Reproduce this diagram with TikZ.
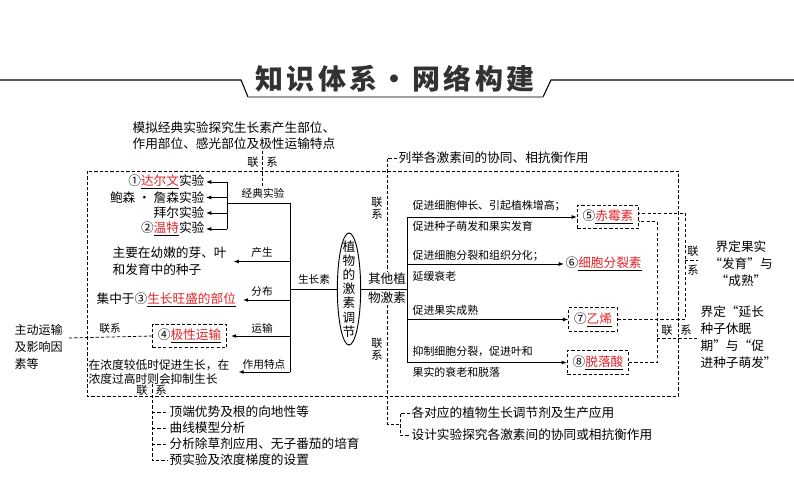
\documentclass[tikz,border=0pt]{standalone}
\usepackage{fontspec}
\setmainfont{Noto Sans CJK SC}
\newfontfamily\titlefont{Noto Sans CJK SC}[LetterSpace=12]
\usepackage{xcolor}
\usepackage{tikz}
\usetikzlibrary{arrows.meta, shapes.geometric, calc}
\definecolor{keyred}{RGB}{225, 35, 40}
\definecolor{titlegray}{RGB}{50, 50, 50}
\definecolor{bargray}{RGB}{160, 160, 160}
\tikzset{
    txt/.style ={font=\fontsize{9.5}{12.75}\selectfont, inner sep=1pt, align=left},
    note/.style={font=\fontsize{8}{10}\selectfont, inner sep=1pt},
    desc/.style={font=\fontsize{8.2}{10}\selectfont, inner sep=1pt, anchor=west},
    lk/.style  ={font=\fontsize{8.5}{10}\selectfont, inner sep=0.5pt},
    dbox/.style={draw, dashed, dash pattern=on 2.4pt off 1.6pt, line width=0.6pt,
                 inner xsep=4pt, minimum height=17pt, font=\fontsize{9.5}{12}\selectfont},
    ln/.style  ={line width=0.7pt},
    ar/.style  ={-{Latex[length=4pt, width=3pt]}, line width=0.7pt},
    dsh/.style ={dashed, dash pattern=on 2.4pt off 1.6pt, line width=0.6pt}
}
\newcommand{\redkey}[1]{\underline{\textcolor{keyred}{#1}}}

\begin{document}
\begin{tikzpicture}[x=0.75pt, y=-0.75pt]
  \useasboundingbox (0,0) rectangle (794,504);

  % title bar
  \node[font=\titlefont\fontsize{21}{24}\selectfont\bfseries, text=titlegray] (title) at (395,79) {知识体系·网络构建};
  \coordinate (hbL) at (0,80);
  \coordinate (hbR) at (794,80);
  \draw[line width=0.8pt] (hbL) -- (241,80) -- (248,97);
  \draw[line width=0.8pt] (543,97) -- (551,80) -- (hbR);
  \draw[bargray, line width=1.8pt] (248,97) -- (543,97);

  % outer frame
  \coordinate (frNW) at (87,171);
  \coordinate (frSE) at (678,396);
  \draw[dsh] (frNW) rectangle (frSE);

  \node[txt, anchor=west, font=\fontsize{9.5}{12}\selectfont] (topnote) at (131,136)
        {模拟经典实验探究生长素产生部位、\\作用部位、感光部位及极性运输特点};
  \coordinate (lkTop) at (262,151);
  \node[lk] (lkA) at (253,162) {联};
  \node[lk] (lkB) at (272,162) {系};

  % classic experiments
  \node[note] (jd) at (263,193) {经典实验};
  \draw[dsh] (lkTop) -- (jd.north -| lkTop);
  \node[txt, anchor=east] (ex1) at (206,182)   {①\redkey{达尔文}实验};
  \node[txt, anchor=east] (ex2) at (206,197.5) {鲍森 · 詹森实验};
  \node[txt, anchor=east] (ex3) at (206,213)   {拜尔实验};
  \node[txt, anchor=east] (ex4) at (206,229)   {②\redkey{温特}实验};
  \coordinate (brA) at (227,182);
  \coordinate (brB) at (227,229);
  \coordinate (brM) at (227,203);
  \coordinate (trTop) at (290,203);
  \coordinate (trBot) at (290,372);
  \draw[ln] (brA) -- (brB);
  \draw[ln] (brM) -- (trTop) -- (trBot);
  \foreach \e in {ex1,ex2,ex3,ex4}
    \draw[ar] (brA |- \e.east) -- (\e.east);

  % auxin branches
  \node[note] (lbA) at (262,252) {产生};
  \node[txt, anchor=west] (prod) at (111,261.5) {主要在幼嫩的芽、叶\\和发育中的种子};
  \draw[ar] (trTop |- prod.east) -- ([xshift=4pt]prod.east);
  \node[note] (lbB) at (262,291) {分布};
  \node[txt, anchor=west] (dist) at (95,300) {集中于③\redkey{生长旺盛的部位}};
  \draw[ar] (trTop |- dist.east) -- ([xshift=4pt]dist.east);
  \node[note] (lbC) at (262,328) {运输};
  \node[dbox] (polar) at (189.5,336) {④\redkey{极性运输}};
  \draw[ar] (trTop |- polar.east) -- ([xshift=3pt]polar.east);
  \node[note] (lbD) at (264,364) {作用特点};
  \node[txt, anchor=west, font=\fontsize{8.8}{10.5}\selectfont] (effect) at (87,372)
        {在浓度较低时促进生长，在\\浓度过高时则会抑制生长};
  \draw[ar] (trBot) -- ([xshift=5.5pt]effect.east);

  % active transport link
  \node[txt, anchor=west, font=\fontsize{9}{12.75}\selectfont] (active) at (13,347) {主动运输\\及影响因\\素等};
  \node[note] (lkC) at (110,329) {联系};
  \coordinate (actR) at (69,338);
  \draw[dsh] (actR) -- (polar.west);

  % centre
  \node[ellipse, draw, line width=0.7pt, minimum width=17.5pt, minimum height=84pt, inner sep=0pt] (horm) at (349,289) {};
  \node[font=\fontsize{9.5}{10.6}\selectfont, align=center, inner sep=0pt] (hormtxt) at (horm.center)
        {植\\物\\的\\激\\素\\调\\节};
  \node[note] (auxlbl) at (314,279) {生长素};
  \draw[ln] (trTop |- horm.west) -- (horm.west);

  % other hormones
  \node[txt, align=center, font=\fontsize{9.5}{14.5}\selectfont] (other) at (387,288) {其他植\\物激素};
  \coordinate (rtA) at (407,217);
  \coordinate (rtB) at (407,362.5);
  \draw[ln] (horm.east) -- (rtA |- horm.east);
  \draw[ln] (rtA) -- (rtB);

  \node[dbox] (ga) at (608,217) {⑤\redkey{赤霉素}};
  \node[txt, anchor=west] (ck) at (564,264) {⑥\redkey{细胞分裂素}};
  \node[dbox] (eth) at (593,319.5) {⑦\redkey{乙烯}};
  \node[dbox] (aba) at (598,362.5) {⑧\redkey{脱落酸}};
  \draw[ar] (rtA) -- (ga.west);
  \draw[ar] (rtA |- ck.west) -- (ck.west);
  \draw[ar] (rtA |- eth.west) -- (eth.west);
  \draw[ar] (rtB) -- (aba.west);

  \node[desc] (gaA)  at (411,206) {促进细胞伸长、引起植株增高；};
  \node[desc] (gaB)  at (411,226) {促进种子萌发和果实发育};
  \node[desc] (ckA)  at (411,256) {促进细胞分裂和组织分化；};
  \node[desc] (ckB)  at (411,276) {延缓衰老};
  \node[desc] (ethA) at (411,310) {促进果实成熟};
  \node[desc] (abaA) at (411,351) {抑制细胞分裂，促进叶和};
  \node[desc] (abaB) at (411,372) {果实的衰老和脱落};

  % links of the other hormones
  \node[txt, anchor=west] (coop) at (397,158) {列举各激素间的协同、相抗衡作用};
  \draw[dsh] (coop.west) -| (other.north);
  \node[lk] (lkD) at (377,202) {联};
  \node[lk] (lkE) at (377,214) {系};
  \node[lk] (lkF) at (377,343) {联};
  \node[lk] (lkG) at (377,355) {系};
  \coordinate (useBr) at (400,424);
  \node[txt, anchor=west] (useA) at (410,413) {各对应的植物生长调节剂及生产应用};
  \node[txt, anchor=west] (useB) at (410,435) {设计实验探究各激素间的协同或相抗衡作用};
  \draw[dsh] (other.south) |- (useBr);
  \draw[dsh] (useA.west) -| (useBr) |- (useB.west);

  \coordinate (devX) at (685,319.5);
  \coordinate (dormX) at (657,362.5);
  \draw[dsh] (eth.east) -- (devX) |- ([yshift=3pt]ga.east);
  \draw[dsh] (aba.east) -- (dormX) |- ([yshift=-3.5pt]ga.east);
  \coordinate (devLk) at (685,260);
  \coordinate (devLkR) at (698,260);
  \draw[dsh] (devLk) -- (devLkR);
  \node[lk] (lkH) at (693,251) {联};
  \node[lk] (lkI) at (693,270) {系};
  \coordinate (dormLk) at (657,338);
  \coordinate (dormLkR) at (697,338);
  \draw[dsh] (dormLk) -- (dormLkR);
  \node[lk] (lkJ) at (667,330) {联};
  \node[lk] (lkK) at (686,330) {系};
  \node[txt, align=center] (fruitdef) at (741,264) {界定果实\\“发育”与\\“成熟”};
  \node[txt, anchor=north west] (dormdef) at (699,304) {界定“延长\\种子休眠\\期”与“促\\进种子萌发”};

  % bottom-left list
  \node[lk] (lkL) at (142,390) {联};
  \node[lk] (lkM) at (161,390) {系};
  \coordinate (lsTop) at (152,384);
  \node[txt, anchor=west] (lsA) at (168,412) {顶端优势及根的向地性等};
  \node[txt, anchor=west] (lsB) at (168,428) {曲线模型分析};
  \node[txt, anchor=west] (lsC) at (168,444) {分析除草剂应用、无子番茄的培育};
  \node[txt, anchor=west] (lsD) at (168,460) {预实验及浓度梯度的设置};
  \draw[dsh] (lsTop) |- (lsD.west);
  \foreach \s in {lsA,lsB,lsC}
    \draw[dsh] (lsTop |- \s.west) -- (\s.west);
\end{tikzpicture}
\end{document}
